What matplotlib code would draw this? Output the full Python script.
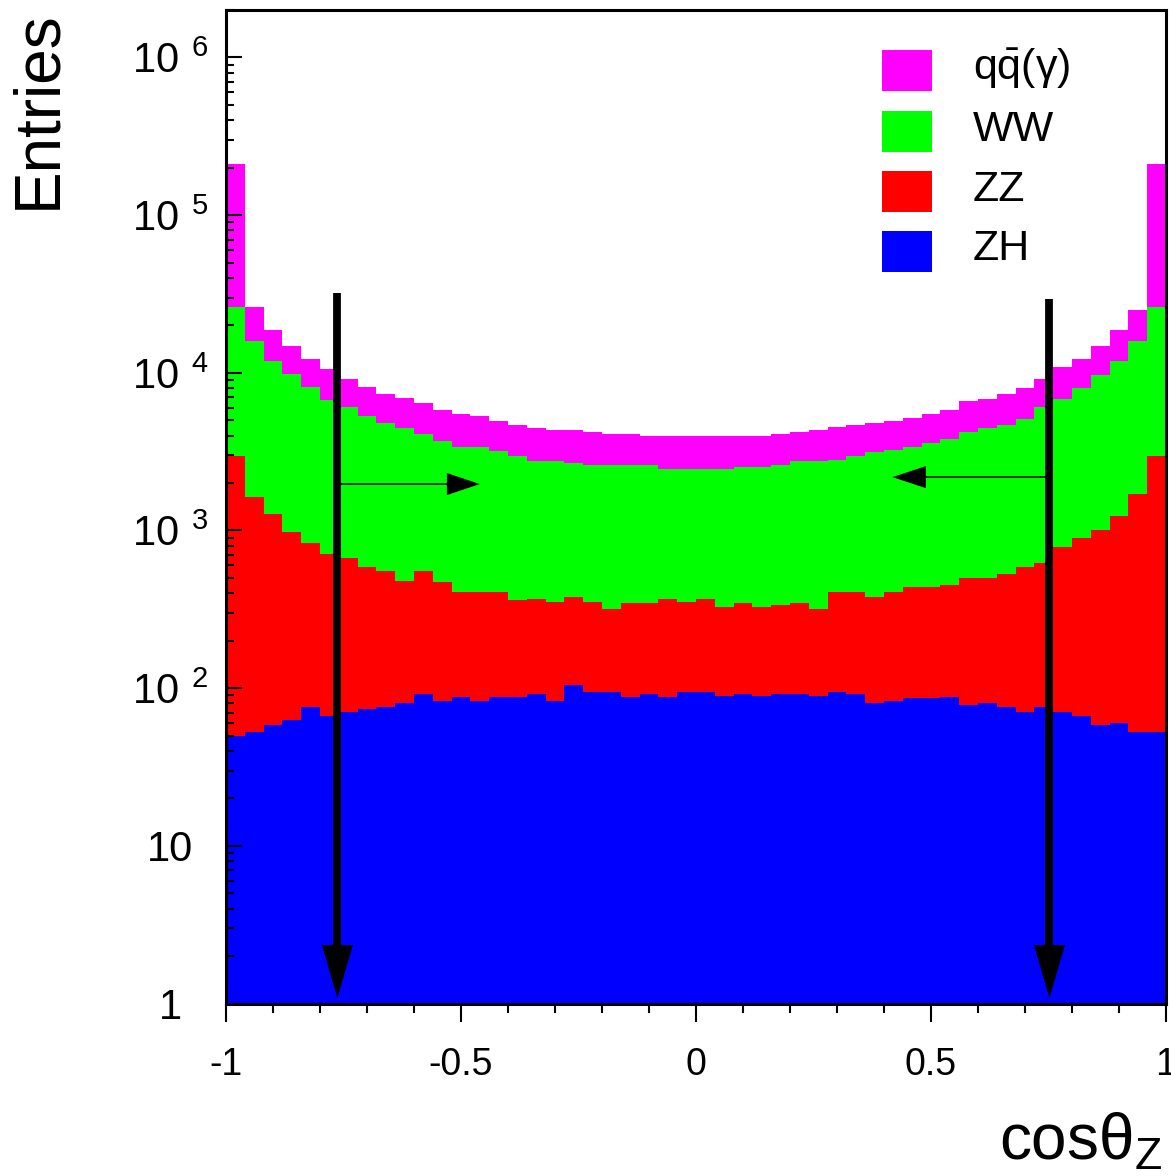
import numpy as np
import matplotlib
matplotlib.use('Agg')
import matplotlib.pyplot as plt
from matplotlib.patches import Rectangle
from matplotlib.ticker import LogLocator, NullFormatter, MultipleLocator

# cos(theta_Z) binning: 50 bins between -1 and 1
bin_edges = np.linspace(-1.0, 1.0, 51)

# stacked (cumulative) heights as drawn by the THStack
top_zh = [50, 53, 58, 63, 76, 67, 71, 74, 76, 81,
          92, 83, 88, 83, 88, 88, 92, 83, 105, 95,
          95, 88, 92, 88, 95, 95, 89, 92, 89, 92,
          92, 89, 95, 92, 81, 83, 86, 86, 88, 78,
          81, 76, 71, 76, 71, 67, 58, 60, 53, 53]

top_zz = [2980, 1640, 1270, 980, 830, 710, 670, 590, 550, 480,
          550, 470, 410, 410, 410, 360, 370, 350, 380, 350,
          320, 345, 345, 370, 350, 370, 327, 345, 327, 336,
          345, 317, 408, 408, 381, 408, 435, 437, 449, 497,
          497, 531, 587, 621, 786, 894, 1010, 1230, 1700, 2970]

top_ww = [26200, 16000, 11900, 9830, 8080, 6680, 6030, 5290, 4800, 4460,
          4090, 3710, 3360, 3360, 3170, 2950, 2770, 2770, 2680, 2590,
          2590, 2590, 2590, 2450, 2450, 2450, 2450, 2510, 2510, 2590,
          2740, 2740, 2810, 2980, 3130, 3250, 3400, 3580, 3820, 4210,
          4470, 4700, 5120, 6030, 6800, 8050, 9730, 11900, 15900, 26000]

top_qq = [212000, 26200, 18800, 14900, 12300, 10500, 9180, 8080, 7340, 6920,
          6430, 5830, 5480, 5290, 4970, 4640, 4460, 4360, 4360, 4210,
          4090, 4090, 3990, 3990, 3990, 3990, 3990, 3990, 3990, 4110,
          4210, 4360, 4500, 4700, 4800, 4970, 5170, 5480, 5830, 6650,
          6850, 7340, 8010, 9180, 10900, 12300, 14900, 18800, 25100, 212000]

labels = [r'q$\mathdefault{\bar{q}}$(γ)', 'WW', 'ZZ', 'ZH']
colors = ['#ff00ff', '#00ff00', '#ff0000', '#0000ff']

# cut positions (vertical arrows) and the direction arrows
cut_x = [-0.763, 0.752]
cut_top = [32200, 29500]
dir_y = [1970, 2180]
dir_tip = [-0.46, 0.418]
dir_base = [-0.53, 0.489]

xticks = [-1, -0.5, 0, 0.5, 1]
xticklabels = ['-1', '-0.5', '0', '0.5', '1']
yticks = [1, 10, 1e2, 1e3, 1e4, 1e5, 1e6]
# ROOT style: "10 ^k" with a gap before the exponent
yticklabels = ['1', '10'] + [r'$\mathdefault{10}^{\;\,\mathdefault{%d}}$' % k for k in range(2, 7)]

SANS = ['Liberation Sans', 'DejaVu Sans']

W, H = 1171, 1176
fig = plt.figure(figsize=(W / 100, H / 100), dpi=100)
ax = fig.add_axes([226 / W, 1 - 1003.5 / H, (1166 - 226) / W, (1003.5 - 10) / H])

# draw the stack back to front, like ROOT does
for top, col in zip([top_qq, top_ww, top_zz, top_zh], colors):
    ax.stairs(top, bin_edges, baseline=1e-3, fill=True, color=col, lw=0)

ax.set_yscale('log')
ax.set_xlim(-1, 1)
ax.set_ylim(1, 2.0e6)

ax.tick_params(axis='x', which='major', direction='out', length=13, width=1.5, pad=18)
ax.tick_params(axis='x', which='minor', direction='out', length=6.5, width=1.5)
ax.tick_params(axis='y', which='major', direction='in', length=11.5, width=1.5, pad=40)
ax.tick_params(axis='y', which='minor', direction='in', length=5.5, width=1.5)

ax.set_xticks(xticks, xticklabels, fontsize=27, family=SANS)
ax.xaxis.set_minor_locator(MultipleLocator(0.1))
ax.set_yticks(yticks, yticklabels, fontsize=30, family=SANS, ha='center')
ax.yaxis.set_minor_locator(LogLocator(base=10, subs=np.arange(2, 10)))
ax.yaxis.set_minor_formatter(NullFormatter())
for t in ax.yaxis.get_major_ticks() + ax.yaxis.get_minor_ticks():
    t.tick1line.set_zorder(5)

for side in ['left', 'bottom', 'right', 'top']:
    ax.spines[side].set_linewidth(2.2)

# cut arrows
for x0, y0 in zip(cut_x, cut_top):
    tip, base = 1.08, 2.35
    ax.plot([x0, x0], [y0, base], color='black', lw=5.6, solid_capstyle='butt', zorder=4)
    ax.fill([x0 - 0.033, x0 + 0.033, x0], [base, base, tip], color='black', lw=0, zorder=4)
for x0, y0, tip, base in zip(cut_x, dir_y, dir_tip, dir_base):
    ax.plot([x0, base], [y0, y0], color='black', lw=1.1, zorder=4)
    ax.fill([base, base, tip], [y0 * 10 ** 0.07, y0 / 10 ** 0.07, y0], color='black', lw=0, zorder=4)

# legend, drawn by hand in figure pixels
rows_y = [70.7, 131.7, 191.7, 251.2]
for lab, col, yc in zip(labels, colors, rows_y):
    fig.add_artist(Rectangle((882 / W, 1 - (yc + 20.5) / H), 50 / W, 41 / H,
                             transform=fig.transFigure, facecolor=col, edgecolor='none'))
    fig.text(973 / W, 1 - (yc - 2) / H, lab, fontsize=31, family=SANS,
             ha='left', va='center')

fig.text(38 / W, 1 - 10 / H, 'Entries', rotation=90, fontsize=46, family=SANS,
         ha='center', va='top')
fig.text(1162 / W, 1 - 1160 / H, r'cosθ$_{\mathdefault{Z}}$', fontsize=46, family=SANS,
         ha='right', va='baseline')

fig.savefig('out.png', dpi=100)
